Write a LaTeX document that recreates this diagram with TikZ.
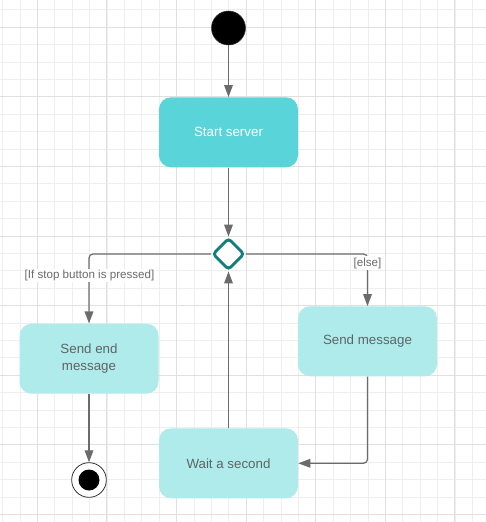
\documentclass[tikz,border=0pt]{standalone}
\usepackage{fontspec}
\setmainfont{Liberation Sans}
\usetikzlibrary{arrows.meta,shapes.geometric}
\definecolor{gridlight}{HTML}{EEEEEE}
\definecolor{griddark}{HTML}{E0E0E0}
\definecolor{startfill}{HTML}{59D5D9}
\definecolor{actfill}{HTML}{AFEBEA}
\definecolor{decline}{HTML}{137D7B}
\definecolor{flowgray}{HTML}{6B6B6B}
\definecolor{textgray}{HTML}{5E6466}

\tikzset{
  act/.style={rectangle, rounded corners=9pt, fill=actfill, text=textgray,
    minimum width=104.25pt, minimum height=52.5pt, align=center,
    font=\fontsize{10}{13}\selectfont},
  flow/.style={draw=flowgray, line width=0.9pt, -{Triangle[length=9pt,width=6.5pt]}},
  guard/.style={fill=white, text=flowgray, inner sep=1pt, font=\fontsize{8.7}{10}\selectfont}
}

\begin{document}
\begin{tikzpicture}[x=0.75pt,y=-0.75pt]
\useasboundingbox (0,0) rectangle (486,522);
\fill[white] (0,0) rectangle (486,522);
\foreach \i in {0,...,27}
  \draw[gridlight, line width=0.75pt] ({2.6+17.4*\i},0) -- ({2.6+17.4*\i},522);
\foreach \j in {0,...,29}
  \draw[gridlight, line width=0.75pt] (0,{9.9+17.4*\j}) -- (486,{9.9+17.4*\j});
\foreach \i in {0,...,6}
  \draw[griddark, line width=0.75pt] ({37.3+69.6*\i},0) -- ({37.3+69.6*\i},522);
\foreach \j in {0,...,7}
  \draw[griddark, line width=0.75pt] (0,{27.3+69.6*\j}) -- (486,{27.3+69.6*\j});

\node[circle, fill=black, draw=black!80, minimum size=25.5pt, inner sep=0] (init) at (228.5,28) {};
\node[act, fill=startfill, text=white] (start) at (228.5,132.3) {Start server};
\node[diamond, draw=decline, line width=2.2pt, fill=white, rounded corners=2.5pt,
  minimum width=24pt, minimum height=24pt, inner sep=0] (choice) at (228.5,254) {};
\node[act] (sendend) at (89,358.7) {Send end\\message};
\node[act] (sendmsg) at (367.5,341.3) {Send message};
\node[act] (wait) at (228.5,463.3) {Wait a second};
\node[circle, draw=black!80, line width=0.6pt, fill=white, minimum size=26pt, inner sep=0] (final) at (89,480) {};
\node[circle, fill=black, minimum size=15.75pt, inner sep=0] (finaldot) at (final) {};

\draw[flow] (init) -- (start);
\draw[flow] (start) -- (choice);
\draw[flow, rounded corners=3pt] (choice.west) -| (sendend.north);
\draw[flow, rounded corners=3pt] (choice.east) -| (sendmsg.north);
\draw[flow, rounded corners=3pt] (sendmsg.south) |- (wait.east);
\draw[flow] (wait) -- (choice);
\draw[flow] (sendend) -- (final);

\node[guard] (stoplbl) at (89.5,275.5) {[If stop button is pressed]};
\node[guard] (elselbl) at (367.5,263) {[else]};
\end{tikzpicture}
\end{document}
